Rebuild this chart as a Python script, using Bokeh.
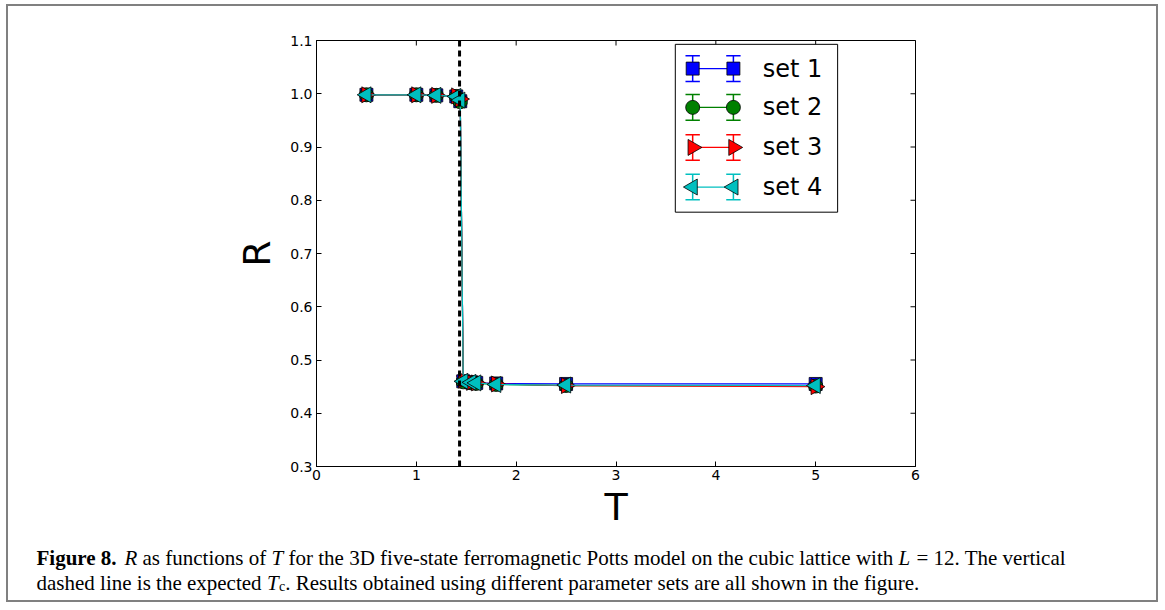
import numpy as np
from bokeh.plotting import figure
from bokeh.layouts import column
from bokeh.models import (ColumnDataSource, Whisker, TeeHead, Span, Range1d,
                          FixedTicker, PrintfTickFormatter, Label)
from bokeh.core.properties import value
from bokeh.embed import file_html
from bokeh.resources import INLINE

# Temperatures at which R was measured
T = [0.5, 1.0, 1.2, 1.4, 1.44, 1.47, 1.55, 1.6, 1.8, 2.5, 5.0]

# R for each parameter set
r_set1 = [0.998, 0.998, 0.997, 0.995, 0.986, 0.460, 0.458, 0.457, 0.456, 0.455, 0.455]
r_set2 = [0.998, 0.998, 0.997, 0.995, 0.985, 0.459, 0.457, 0.456, 0.454, 0.452, 0.451]
r_set3 = [0.998, 0.998, 0.997, 0.996, 0.990, 0.462, 0.458, 0.457, 0.455, 0.452, 0.450]
r_set4 = [0.998, 0.998, 0.997, 0.995, 0.988, 0.460, 0.458, 0.457, 0.454, 0.453, 0.452]

# Error bars
err_set1 = [0.001, 0.001, 0.001, 0.002, 0.004, 0.005, 0.002, 0.002, 0.001, 0.001, 0.001]
err_set2 = [0.001, 0.001, 0.001, 0.002, 0.004, 0.005, 0.002, 0.002, 0.001, 0.001, 0.001]
err_set3 = [0.001, 0.001, 0.001, 0.002, 0.004, 0.008, 0.002, 0.002, 0.001, 0.001, 0.001]
err_set4 = [0.001, 0.001, 0.001, 0.002, 0.004, 0.005, 0.002, 0.002, 0.001, 0.001, 0.001]

set_labels = ["set 1", "set 2", "set 3", "set 4"]
TC = 1.433  # expected critical temperature

x_ticks = [0, 1, 2, 3, 4, 5, 6]
y_ticks = [0.3, 0.4, 0.5, 0.6, 0.7, 0.8, 0.9, 1.0, 1.1]
X_MIN, X_MAX = 0, 6
Y_MIN, Y_MAX = 0.3, 1.1

styles = [
    dict(color="#0000ff", marker="square", size=13, angle=0.0),
    dict(color="#008000", marker="circle", size=14, angle=0.0),
    dict(color="#ff0000", marker="triangle", size=16, angle=-np.pi / 2),
    dict(color="#00bfbf", marker="triangle", size=16, angle=np.pi / 2),
]

p = figure(width=1148, height=525, output_backend="svg", toolbar_location=None,
           x_range=Range1d(X_MIN, X_MAX), y_range=Range1d(Y_MIN, Y_MAX),
           min_border_left=308, min_border_right=241, min_border_top=34,
           min_border_bottom=64)
p.background_fill_color = "white"
p.border_fill_color = "white"
p.outline_line_color = "black"
p.outline_line_width = 1
p.grid.visible = False

p.extra_x_ranges = {"fx": Range1d(0, 1)}
p.extra_y_ranges = {"fy": Range1d(0, 1)}

for ax in (p.xaxis[0], p.yaxis[0]):
    ax.major_tick_in = 5
    ax.major_tick_out = 0
    ax.minor_tick_line_color = None
    ax.axis_line_color = "black"
    ax.major_tick_line_color = "black"
    ax.major_label_text_font = "DejaVu Sans"
    ax.major_label_text_font_size = "14px"
    ax.major_label_text_color = "black"
    ax.axis_label_text_font = "DejaVu Sans"
    ax.axis_label_text_font_size = "38px"
    ax.axis_label_text_font_style = "normal"
    ax.axis_label_text_color = "black"

p.xaxis[0].ticker = FixedTicker(ticks=x_ticks)
p.yaxis[0].ticker = FixedTicker(ticks=y_ticks)
p.yaxis[0].formatter = PrintfTickFormatter(format="%.1f")
p.xaxis[0].axis_label = "T"
p.yaxis[0].axis_label = "R"
p.xaxis[0].major_label_standoff = 3
p.yaxis[0].major_label_standoff = 4
p.xaxis[0].axis_label_standoff = 2
p.yaxis[0].axis_label_standoff = 8

# Inward ticks on the top and right edges (half of each dash is clipped by the frame)
p.scatter(x=x_ticks, y=[Y_MAX] * len(x_ticks), marker="dash", size=10, angle=np.pi / 2,
          line_color="black", line_width=1)
p.scatter(x=[X_MAX] * len(y_ticks), y=y_ticks, marker="dash", size=10, angle=0.0,
          line_color="black", line_width=1)

# Expected Tc
p.add_layout(Span(location=TC, dimension="height", line_color="black",
                  line_width=3, line_dash="6 4"))

series = [(r_set1, err_set1), (r_set2, err_set2), (r_set3, err_set3), (r_set4, err_set4)]
for (r, e), st in zip(series, styles):
    src = ColumnDataSource(dict(x=T, y=r, lo=[a - b for a, b in zip(r, e)],
                                hi=[a + b for a, b in zip(r, e)]))
    p.line("x", "y", source=src, line_color=st["color"], line_width=1.2)
    p.add_layout(Whisker(source=src, base="x", lower="lo", upper="hi",
                         line_color=st["color"], line_width=1.5,
                         upper_head=TeeHead(size=14, line_color=st["color"], line_width=1.5),
                         lower_head=TeeHead(size=14, line_color=st["color"], line_width=1.5)))
    p.scatter("x", "y", source=src, marker=st["marker"], size=st["size"], angle=st["angle"],
              fill_color=st["color"], line_color="black", line_width=0.8)

# Legend box, in fractions of the plotting frame
p.quad(left=[0.599], right=[0.870], bottom=[0.597], top=[0.991], fill_color="white",
       line_color="black", line_width=1, x_range_name="fx", y_range_name="fy")
rows = [0.934, 0.843, 0.749, 0.656]
mx = [0.628, 0.696]
for yy, st, lab in zip(rows, styles, set_labels):
    p.line(mx, [yy, yy], line_color=st["color"], line_width=1.2,
           x_range_name="fx", y_range_name="fy")
    p.segment(x0=mx, x1=mx, y0=[yy - 0.03] * 2, y1=[yy + 0.03] * 2,
              line_color=st["color"], line_width=1.5, x_range_name="fx", y_range_name="fy")
    for cy in (yy - 0.03, yy + 0.03):
        p.segment(x0=[m - 0.012 for m in mx], x1=[m + 0.012 for m in mx], y0=[cy] * 2,
                  y1=[cy] * 2, line_color=st["color"], line_width=1.5,
                  x_range_name="fx", y_range_name="fy")
    p.scatter(mx, [yy, yy], marker=st["marker"], size=st["size"], angle=st["angle"],
              fill_color=st["color"], line_color="black", line_width=0.8,
              x_range_name="fx", y_range_name="fy")
    p.add_layout(Label(x=0.745, y=yy, x_range_name="fx", y_range_name="fy", text=lab,
                       text_font="DejaVu Sans", text_font_size="24px",
                       text_baseline="middle", text_color="black"))

# Caption panel: pixel coordinates, y measured downward
CAP_W, CAP_H = 1148, 69
cap = figure(width=CAP_W, height=CAP_H, output_backend="svg", toolbar_location=None,
             x_range=Range1d(0, CAP_W), y_range=Range1d(CAP_H, 0),
             x_axis_location=None, y_axis_location=None, min_border=0)
cap.grid.visible = False
cap.outline_line_color = None
cap.background_fill_color = "white"
cap.border_fill_color = "white"

# keep the caption's frame independent of the chart's frame in the column
for fig in (p, cap):
    if "frame_align" in fig.properties():
        fig.frame_align = False

serif = value("Liberation Serif")
runs = [
    (28, 26, "Figure 8.", "bold", "21px"),
    (116, 26, "R", "italic", "21px"),
    (134, 26, "as functions of", "normal", "21px"),
    (263, 26, "T", "italic", "21px"),
    (280, 26, "for the 3D five-state ferromagnetic Potts model on the cubic lattice with",
     "normal", "21px"),
    (890, 26, "L", "italic", "21px"),
    (908, 26, "= 12. The vertical", "normal", "21px"),
    (28, 51, "dashed line is the expected", "normal", "21px"),
    (258.5, 51, "T", "italic", "21px"),
    (270.5, 55, "c", "normal", "14px"),
    (276.7, 51, ". Results obtained using different parameter sets are all shown in the figure.",
     "normal", "21px"),
]
for cx, cy, txt, style, size in runs:
    cap.text(x=[cx], y=[cy], text=[txt], text_font=serif, text_font_size=value(size),
             text_font_style=style, text_baseline="alphabetic", text_align="left",
             text_color="black")

layout = column(p, cap, spacing=0,
                styles={"border": "2px solid #808080", "margin-left": "6px",
                        "margin-top": "4px"})

open("out.html", "w").write(file_html(layout, INLINE))
